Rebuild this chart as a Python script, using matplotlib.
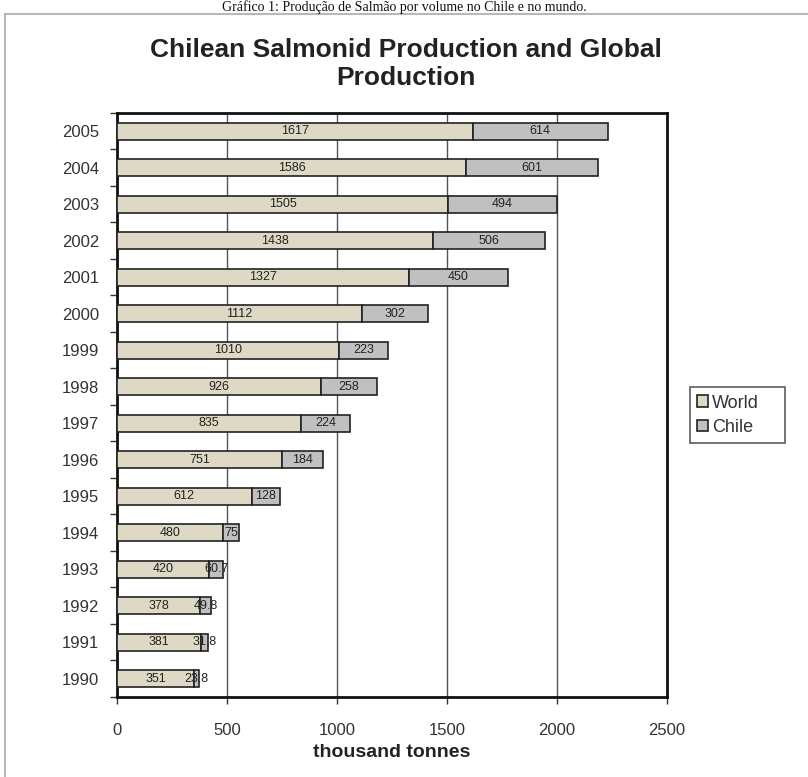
import matplotlib
matplotlib.use("Agg")
import matplotlib.pyplot as plt
from matplotlib.patches import Rectangle

years = ["1990", "1991", "1992", "1993", "1994", "1995", "1996", "1997",
         "1998", "1999", "2000", "2001", "2002", "2003", "2004", "2005"]
world = [351, 381, 378, 420, 480, 612, 751, 835, 926, 1010, 1112, 1327, 1438, 1505, 1586, 1617]
chile = [23.8, 31.8, 49.8, 60.7, 75, 128, 184, 224, 258, 223, 302, 450, 506, 494, 601, 614]
world_labels = ["351", "381", "378", "420", "480", "612", "751", "835", "926", "1010",
                "1112", "1327", "1438", "1505", "1586", "1617"]
chile_labels = ["23.8", "31.8", "49.8", "60.7", "75", "128", "184", "224", "258", "223",
                "302", "450", "506", "494", "601", "614"]
x_ticks = [0, 500, 1000, 1500, 2000, 2500]

plt.rcParams["font.family"] = ["Liberation Sans", "DejaVu Sans"]

fig = plt.figure(figsize=(8.08, 7.77), dpi=100)
fig.patch.set_facecolor("white")

# caption above the chart panel
fig.text(0.5, 0.9995, "Gráfico 1: Produção de Salmão por volume no Chile e no mundo.",
         ha="center", va="top", fontsize=10, family="Liberation Serif", color="#111111")

# chart panel frame
fig.patches.append(Rectangle((0.006, -0.01), 1.0, 0.992, transform=fig.transFigure,
                             facecolor="none", edgecolor="#b8b8b8", linewidth=1.5))

ax = fig.add_axes([0.1448, 0.1030, 0.6807, 0.7516])
ypos = list(range(len(years)))
h = 0.46
b1 = ax.barh(ypos, world, height=h, color="#ddd9c4", edgecolor="#222222", linewidth=1.2,
             label="World", zorder=3)
b2 = ax.barh(ypos, chile, height=h, left=world, color="#c0c0c0", edgecolor="#222222",
             linewidth=1.2, label="Chile", zorder=3)

for i in ypos:
    ax.text(world[i] / 2, i, world_labels[i], ha="center", va="center",
            fontsize=9, color="#222222", zorder=4)
    ax.text(world[i] + chile[i] / 2, i, chile_labels[i], ha="center", va="center",
            fontsize=9, color="#222222", zorder=4)

ax.set_xlim(0, 2500)
ax.set_ylim(-0.5, len(years) - 0.5)
ax.set_xticks(x_ticks)
ax.set_xticklabels([str(v) for v in x_ticks], fontsize=12, color="#333333")
ax.set_yticks(ypos)
ax.set_yticklabels(years, fontsize=12, color="#333333")
ax.tick_params(axis="y", length=0, pad=13)
ax.set_yticks([i - 0.5 for i in range(len(years) + 1)], minor=True)
ax.tick_params(axis="y", which="minor", length=5, width=1, color="#333333", direction="out")
ax.tick_params(axis="x", length=5, width=1, color="#333333", direction="out", pad=14)
ax.xaxis.grid(True, color="#555555", linewidth=1, zorder=0)
ax.set_axisbelow(True)
for s in ax.spines.values():
    s.set_linewidth(2)
    s.set_color("#111111")

ax.set_xlabel("thousand tonnes", fontsize=14, fontweight="bold", color="#222222", labelpad=4)
fig.text(0.503, 0.918, "Chilean Salmonid Production and Global\nProduction",
         ha="center", va="center", fontsize=19, fontweight="bold", color="#222222",
         linespacing=1.2)

leg = fig.legend(handles=[b1, b2], labels=["World", "Chile"], loc="lower left",
                 bbox_to_anchor=(0.854, 0.4299, 0.1176, 0.0965), mode="expand",
                 fontsize=13, frameon=True, fancybox=False, handlelength=0.6,
                 handleheight=0.6, handletextpad=0.2, borderaxespad=0, labelspacing=0.4)
leg.get_frame().set_edgecolor("#333333")
leg.get_frame().set_linewidth(1.2)
for t in leg.get_texts():
    t.set_color("#333333")

fig.savefig("out.png", dpi=100)
